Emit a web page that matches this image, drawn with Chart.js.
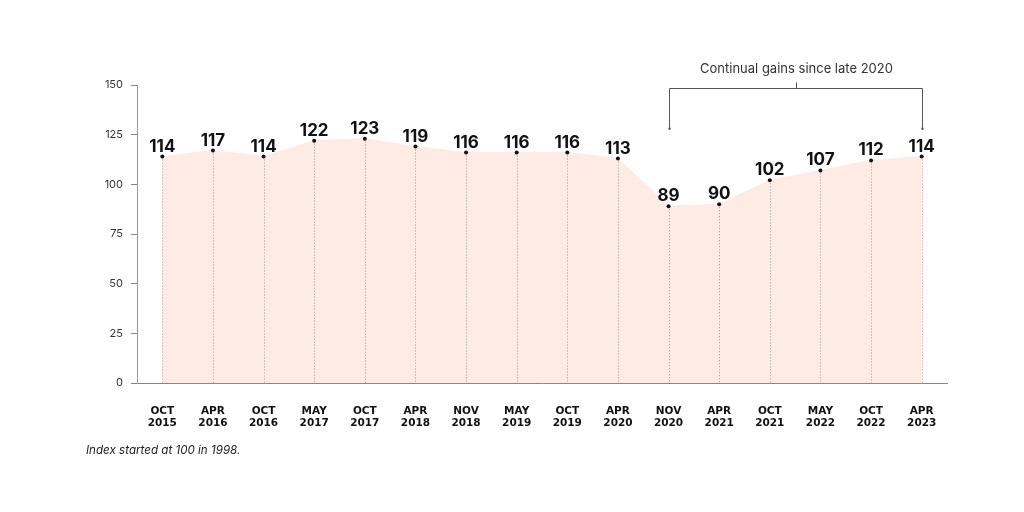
<!DOCTYPE html>
<html lang="en">
<head>
    <meta charset="UTF-8">
    <title>Index chart</title>
    <script src="https://cdn.jsdelivr.net/npm/chart.js"></script>
    <style>
        body { margin: 0; background: #fff; }
        #wrap { position: relative; width: 1024px; height: 512px; }
        #note {
            position: absolute; left: 86px; top: 443px;
            font: italic 11.6px "Inter", sans-serif; color: #222;
        }
    </style>
</head>
<body>
    <div id="wrap">
        <canvas id="myChart" width="1024" height="512"></canvas>
        <div id="note">Index started at 100 in 1998.</div>
    </div>
    <script>
        // data
        const months = ["OCT", "APR", "OCT", "MAY", "OCT", "APR", "NOV", "MAY", "OCT", "APR", "NOV", "APR", "OCT", "MAY", "OCT", "APR"];
        const years = ["2015", "2016", "2016", "2017", "2017", "2018", "2018", "2019", "2019", "2020", "2020", "2021", "2021", "2022", "2022", "2023"];
        const indexValues = [114, 117, 114, 122, 123, 119, 116, 116, 116, 113, 89, 90, 102, 107, 112, 114];
        const yTicks = [0, 25, 50, 75, 100, 125, 150];
        const noteText = "Continual gains since late 2020";
        const bracketFrom = 10, bracketTo = 15;

        const labels = months.map((m, i) => [m, years[i]]);

        // dotted drop lines, value labels and the bracket note
        const extras = {
            id: "extras",
            afterDatasetsDraw(chart) {
                const ctx = chart.ctx;
                const x = chart.scales.x, y = chart.scales.y;
                const base = y.getPixelForValue(0);
                const pts = chart.getDatasetMeta(0).data;

                ctx.save();
                ctx.strokeStyle = "#9a9a9a";
                ctx.lineWidth = 1;
                ctx.setLineDash([1, 2]);
                pts.forEach(p => {
                    ctx.beginPath();
                    ctx.moveTo(Math.round(p.x) + 0.5, p.y);
                    ctx.lineTo(Math.round(p.x) + 0.5, base);
                    ctx.stroke();
                });
                ctx.setLineDash([]);

                pts.forEach(p => {
                    ctx.fillStyle = "#111";
                    ctx.beginPath();
                    ctx.arc(p.x, p.y, 2, 0, Math.PI * 2);
                    ctx.fill();
                });

                ctx.font = "700 17px Inter";
                ctx.textAlign = "center";
                ctx.textBaseline = "alphabetic";
                ctx.fillStyle = "#111";
                pts.forEach((p, i) => {
                    ctx.fillText(String(indexValues[i]), p.x, p.y - 5);
                });

                // bracket
                const x1 = Math.round(x.getPixelForValue(bracketFrom)) + 0.5;
                const x2 = Math.round(x.getPixelForValue(bracketTo)) + 0.5;
                const top = Math.round(chart.chartArea.top + 3) + 0.5;
                const end = y.getPixelForValue(128);
                const mid = Math.round((x1 + x2) / 2) + 0.5;
                ctx.strokeStyle = "#555";
                ctx.beginPath();
                ctx.moveTo(x1, end);
                ctx.lineTo(x1, top);
                ctx.lineTo(x2, top);
                ctx.lineTo(x2, end);
                ctx.moveTo(mid, top);
                ctx.lineTo(mid, top - 6);
                ctx.stroke();
                ctx.fillStyle = "#555";
                [x1, x2].forEach(xx => {
                    ctx.beginPath();
                    ctx.arc(xx, end, 1.2, 0, Math.PI * 2);
                    ctx.fill();
                });

                ctx.font = "13px Inter";
                ctx.fillStyle = "#333";
                ctx.textBaseline = "middle";
                ctx.fillText(noteText, mid, top - 19);
                ctx.restore();
            }
        };

        const ctx = document.getElementById("myChart").getContext("2d");
        window.myChart = new Chart(ctx, {
            type: "line",
            data: {
                labels: labels,
                datasets: [{
                    data: indexValues,
                    fill: "origin",
                    backgroundColor: "#fdebe4",
                    borderColor: "#fdebe4",
                    borderWidth: 1,
                    pointRadius: 0,
                    tension: 0
                }]
            },
            options: {
                responsive: false,
                animation: false,
                layout: { padding: { left: 80, right: 77, top: 85, bottom: 60 } },
                plugins: {
                    legend: { display: false },
                    tooltip: { enabled: false }
                },
                scales: {
                    x: {
                        offset: true,
                        grid: { display: false },
                        border: { color: "#888" },
                        afterFit: s => { s.height = 69; },
                        ticks: {
                            color: "#111",
                            padding: 14,
                            maxRotation: 0,
                            autoSkip: false,
                            font: { family: "DejaVu Sans", weight: "bold", size: 10.5, lineHeight: 1.15 }
                        }
                    },
                    y: {
                        min: 0,
                        max: 150,
                        afterFit: s => { s.width = 57; },
                        afterBuildTicks: s => { s.ticks = yTicks.map(v => ({ value: v })); },
                        grid: { drawOnChartArea: false, tickLength: 6, color: "#888" },
                        border: { color: "#999" },
                        ticks: {
                            color: "#333",
                            padding: 8,
                            font: { family: "Inter", size: 11 }
                        }
                    }
                }
            },
            plugins: [extras]
        });
    </script>
</body>
</html>
